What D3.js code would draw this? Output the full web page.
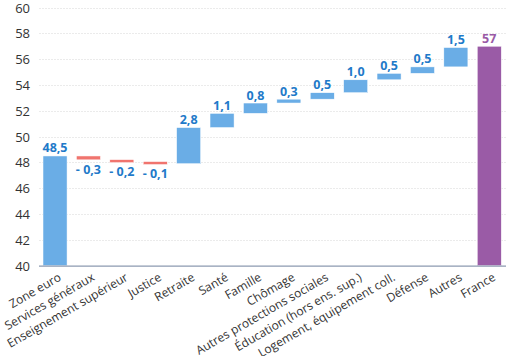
<!DOCTYPE html>
<html><head><meta charset="utf-8">
<script src="https://cdn.jsdelivr.net/npm/d3@7"></script>
<style>
html,body{margin:0;padding:0;background:#fff;}
svg{display:block;font-family:"Open Sans","Noto Sans",sans-serif;}
</style></head>
<body><svg id="c" width="506" height="356"></svg>
<script>
const categories = ["Zone euro","Services généraux","Enseignement supérieur","Justice","Retraite","Santé","Famille","Chômage","Autres protections sociales","Éducation (hors ens. sup.)","Logement, équipement coll.","Défense","Autres","France"];
const values = [48.5,-0.3,-0.2,-0.1,2.8,1.1,0.8,0.3,0.5,1.0,0.5,0.5,1.5,57];
const labels = ["48,5","- 0,3","- 0,2","- 0,1","2,8","1,1","0,8","0,3","0,5","1,0","0,5","0,5","1,5","57"];
const yTicks = [40,42,44,46,48,50,52,54,56,58,60];

const svg = d3.select("#c");
const mLeft = 39, mRight = 505.3, mTop = 7.5, mBottom = 265.7;
const x = d3.scaleBand().domain(categories).range([mLeft, mRight]).paddingInner(0.28).paddingOuter(0.12);
const y = d3.scaleLinear().domain([40,60]).range([mBottom, mTop]);

// compute waterfall
let run = 0;
const bars = categories.map((c,i)=>{
  let y0,y1,type;
  if(i===0){ y0=40; y1=values[i]; run=values[i]; type="total"; }
  else if(i===categories.length-1){ y0=40; y1=values[i]; type="final"; }
  else { y0=run; y1=run+values[i]; run=y1; type = values[i]<0?"neg":"pos"; }
  return {c,i,y0,y1,type,v:values[i],label:labels[i]};
});

// grid
svg.append("g").selectAll("line").data(yTicks.slice(1)).join("line")
  .attr("x1",mLeft).attr("x2",506).attr("y1",d=>Math.round(y(d))+0.5).attr("y2",d=>Math.round(y(d))+0.5)
  .attr("stroke","#ebebeb").attr("stroke-width",1).attr("stroke-dasharray","2,1");

// y labels
svg.append("g").selectAll("text").data(yTicks).join("text")
  .attr("x",30).attr("y",d=>y(d)+5).attr("text-anchor","end")
  .attr("font-size",13).attr("fill","#333").text(d=>d);

const colors = {total:"#6aade6",pos:"#6aade6",neg:"#f0746e",final:"#9a5ba6"};
svg.append("g").selectAll("rect").data(bars).join("rect")
  .attr("x",d=>x(d.c)).attr("width",x.bandwidth())
  .attr("y",d=>{const h=Math.abs(y(d.y0)-y(d.y1)); return y(Math.max(d.y0,d.y1)) - (h<3?(3-h)/2:0);})
  .attr("height",d=>Math.max(3,Math.abs(y(d.y0)-y(d.y1))))
  .attr("fill",d=>colors[d.type]).attr("stroke","#fff").attr("stroke-width",0.5);

// axis line
svg.append("line").attr("x1",mLeft).attr("x2",506).attr("y1",mBottom+0.5).attr("y2",mBottom+0.5)
  .attr("stroke","#8c9ab0").attr("stroke-width",1.2);

// value labels
svg.append("g").selectAll("text").data(bars).join("text")
  .attr("x",d=>x(d.c)+x.bandwidth()/2)
  .attr("y",d=> d.type==="neg" ? y(d.y1)+14 : y(Math.max(d.y0,d.y1))-3.5)
  .attr("text-anchor","middle").attr("font-size",12.5).attr("font-weight","bold")
  .attr("fill",d=>d.type==="final"?"#9a5ba6":"#1f7ac9").text(d=>d.label);

// x labels
svg.append("g").selectAll("text").data(categories).join("text")
  .attr("transform",d=>`translate(${x(d)+x.bandwidth()/2+7},${mBottom+14}) rotate(-30)`)
  .attr("text-anchor","end").attr("font-size",12).attr("fill","#333").text(d=>d);
</script></body></html>
